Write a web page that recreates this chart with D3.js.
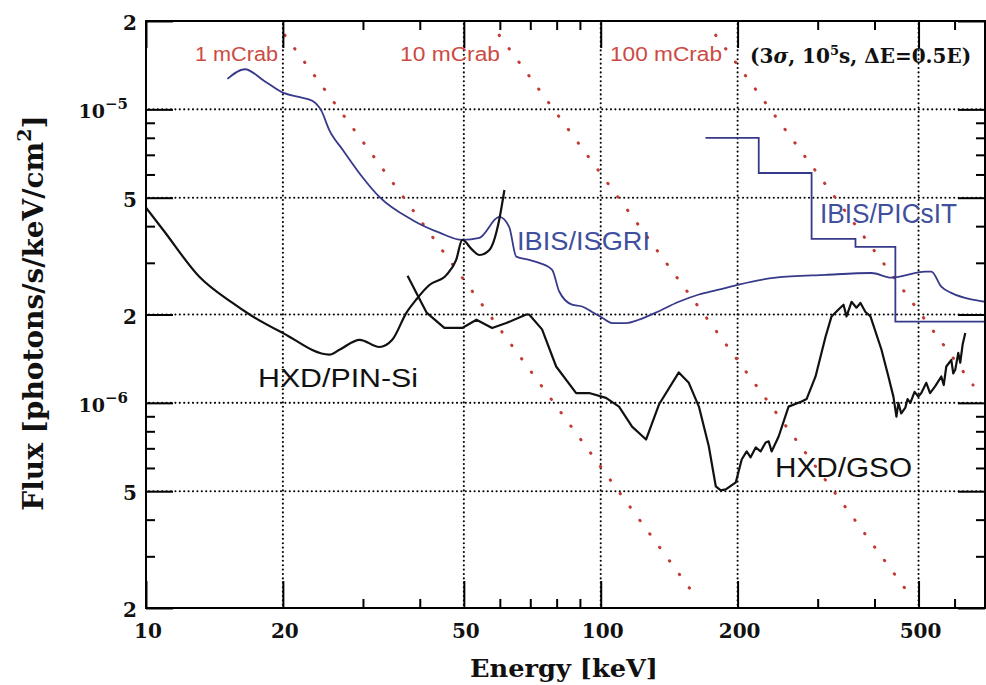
<!DOCTYPE html>
<html>
<head>
<meta charset="utf-8">
<style>
  body {
    margin: 0;
    background-color: #fff;
  }

  svg {
    display: block;
  }

  .tick-label {
    font-family: 'DejaVu Serif', serif;
    font-weight: bold;
    font-size: 20px;
    fill: #111;
  }

  .axis-title {
    font-family: 'DejaVu Serif', serif;
    font-weight: bold;
    fill: #111;
  }

  .instr {
    font-family: 'Liberation Sans', Arial, sans-serif;
  }
</style>
<script src="https://d3js.org/d3.v7.min.js"></script>
</head>
<body>
<script>
  // energies in keV, fluxes in photons/s/keV/cm2

  // HXD/PIN-Si sensitivity
  const pinEnergy = [10, 10.9, 13.1, 15.5, 16.9, 20.0, 25.3, 26.7, 29.5, 32.6, 34.8, 37.4, 39.3, 42.0, 45.8, 48.1, 49.6, 52.2, 54.1, 56.9, 59.8, 61.4];
  const pinFlux = [4.62e-6, 3.89e-6, 2.69e-6, 2.19e-6, 2.00e-6, 1.73e-6, 1.46e-6, 1.52e-6, 1.64e-6, 1.55e-6, 1.64e-6, 2.03e-6, 2.25e-6, 2.52e-6, 2.73e-6, 3.07e-6, 3.59e-6, 3.32e-6, 3.19e-6, 3.32e-6, 4.20e-6, 5.31e-6];

  // HXD/GSO sensitivity
  const gsoEnergy = [37.6, 39.3, 41.4, 45.3, 49.6, 53.3, 57.7, 62.0, 68.6, 69.6, 74.3, 79.8, 88.3, 94.3, 102.7, 109.7, 117.2, 125.8, 134.3, 148.5, 156.2, 164.4, 172.9, 179.1, 183.7, 188.4, 198.2, 204.2, 209.4, 213.6, 219.2, 224.7, 230.5, 234.1, 237.6, 246.2, 258.9, 276.5, 283.6, 296.8, 312.2, 321.8, 333.4, 342.0, 347.2, 356.1, 365.1, 372.6, 382.1, 391.9, 414.3, 429.2, 440.2, 447.0, 451.5, 458.0, 467.7, 473.0, 479.7, 490.0, 499.4, 507.0, 520.0, 530.0, 544.2, 561.0, 568.0, 575.4, 590.2, 596.0, 602.3, 611.4, 617.6, 625.0, 633.5];
  const gsoFlux = [2.71e-6, 2.37e-6, 2.03e-6, 1.80e-6, 1.80e-6, 1.92e-6, 1.80e-6, 1.87e-6, 2.00e-6, 2.00e-6, 1.78e-6, 1.33e-6, 1.08e-6, 1.08e-6, 1.04e-6, 9.71e-7, 8.30e-7, 7.50e-7, 9.87e-7, 1.27e-6, 1.17e-6, 9.71e-7, 7.10e-7, 5.19e-7, 5.03e-7, 5.07e-7, 5.36e-7, 6.41e-7, 6.83e-7, 6.52e-7, 7.05e-7, 6.83e-7, 7.33e-7, 7.39e-7, 6.83e-7, 7.68e-7, 9.71e-7, 1.01e-6, 1.03e-6, 1.23e-6, 1.68e-6, 1.97e-6, 2.08e-6, 2.16e-6, 1.97e-6, 2.21e-6, 2.11e-6, 2.19e-6, 2.04e-6, 1.97e-6, 1.52e-6, 1.23e-6, 1.05e-6, 8.98e-7, 1.00e-6, 9.2e-7, 9.64e-7, 1.03e-6, 1.00e-6, 1.09e-6, 1.05e-6, 1.08e-6, 1.17e-6, 1.08e-6, 1.14e-6, 1.23e-6, 1.15e-6, 1.33e-6, 1.40e-6, 1.26e-6, 1.30e-6, 1.48e-6, 1.37e-6, 1.58e-6, 1.73e-6];

  // IBIS/ISGRI sensitivity
  const isgriEnergy = [15.1, 16.5, 18.2, 20.0, 21.8, 23.2, 24.3, 25.3, 27.1, 29.9, 32.6, 38.5, 44.2, 49.6, 54.1, 59.8, 62.9, 65.2, 69.6, 73.2, 78.2, 81.0, 86.5, 91.0, 95.7, 100.7, 105.9, 113.6, 121.4, 132.2, 148.5, 164.4, 181.8, 201.2, 242.5, 312.2, 393.9, 435.8, 517.4, 533.3, 561.0, 590.2, 653.0, 700];
  const isgriFlux = [1.27e-5, 1.37e-5, 1.25e-5, 1.14e-5, 1.10e-5, 1.07e-5, 9.9e-6, 8.5e-6, 7.27e-6, 5.88e-6, 5.03e-6, 4.20e-6, 3.80e-6, 3.59e-6, 3.65e-6, 4.30e-6, 3.98e-6, 3.15e-6, 3.07e-6, 3.00e-6, 2.84e-6, 2.40e-6, 2.16e-6, 2.13e-6, 2.04e-6, 1.95e-6, 1.87e-6, 1.87e-6, 1.92e-6, 2.03e-6, 2.21e-6, 2.34e-6, 2.43e-6, 2.53e-6, 2.67e-6, 2.73e-6, 2.77e-6, 2.67e-6, 2.80e-6, 2.80e-6, 2.49e-6, 2.37e-6, 2.25e-6, 2.21e-6];

  // IBIS/PICsIT sensitivity (binned, step edges)
  const picsitEnergy = [170, 222.6, 290.9, 363.3, 444.6, 700];
  const picsitFlux = [8.0e-6, 6.07e-6, 3.62e-6, 3.40e-6, 1.89e-6, 1.89e-6];

  // Crab-scaled reference lines, start and end points
  const crabLabels = ['1 mCrab', '10 mCrab', '100 mCrab'];
  const crabEnergy = [[20.2, 162], [59.8, 482], [179, 659]];
  const crabFlux = [[1.79e-5, 2.18e-7], [1.79e-5, 2.18e-7], [1.79e-5, 1.15e-6]];

  // axes
  const xMajorTicks = [10, 20, 50, 100, 200, 500];
  const xMinorTicks = [30, 40, 60, 70, 80, 90, 300, 400, 600];
  const yMajorTicks = [2e-7, 5e-7, 1e-6, 2e-6, 5e-6, 1e-5, 2e-5];
  const yMinorTicks = [3e-7, 4e-7, 6e-7, 7e-7, 8e-7, 9e-7, 3e-6, 4e-6, 6e-6, 7e-6, 8e-6, 9e-6];
  const yTickMantissa = ['2', '5', '10', '2', '5', '10', '2'];
  const yTickExponent = ['', '', '\u22126', '', '', '\u22125', ''];
  const xGrid = [20, 50, 100, 200, 500];
  const yGrid = [5e-7, 1e-6, 2e-6, 5e-6, 1e-5];

  const width = 986;
  const height = 685;
  const plot = { left: 146, right: 985, top: 21, bottom: 608 };

  const colors = {
    black: '#111',
    blue: '#37398a',
    blueText: '#40509e',
    crab: '#c23a34',
    crabText: '#cc4a44',
  };

  const svg = d3.select('body')
    .append('svg')
    .attr('width', width)
    .attr('height', height);

  svg.append('rect')
    .attr('width', width)
    .attr('height', height)
    .attr('fill', '#fff');

  const x = d3.scaleLog().domain([10, 700]).range([plot.left, plot.right]);
  const y = d3.scaleLog().domain([2e-7, 2e-5]).range([plot.bottom, plot.top]);
  const plotW = plot.right - plot.left;
  const plotH = plot.bottom - plot.top;

  const defs = svg.append('defs');
  defs.append('clipPath')
    .attr('id', 'plot-clip')
    .append('rect')
    .attr('x', plot.left)
    .attr('y', plot.top)
    .attr('width', plotW)
    .attr('height', plotH);

  // dotted grid: a row of small dots along each grid line
  const dotStep = 4.4;
  const gridDots = [];
  xGrid.forEach((d) => {
    d3.range(plot.top + 3, plot.bottom - 1, dotStep).forEach((gy) => gridDots.push([x(d), gy]));
  });
  yGrid.forEach((d) => {
    d3.range(plot.left + 3, plot.right - 1, dotStep).forEach((gx) => gridDots.push([gx, y(d)]));
  });

  svg.append('g')
    .attr('class', 'grid-dots')
    .selectAll('circle')
    .data(gridDots)
    .join('circle')
    .attr('cx', (d) => d[0])
    .attr('cy', (d) => d[1])
    .attr('r', 1.05)
    .attr('fill', '#000');

  // curves
  const curves = svg.append('g').attr('clip-path', 'url(#plot-clip)');

  const crabLine = d3.line().x((d) => x(d[0])).y((d) => y(d[1]));
  crabEnergy.forEach((e, i) => {
    curves.append('path')
      .attr('d', crabLine(d3.zip(e, crabFlux[i])))
      .attr('fill', 'none')
      .attr('stroke', colors.crab)
      .attr('stroke-width', 3)
      .attr('stroke-linecap', 'round')
      .attr('stroke-dasharray', '0.5,16.2');
  });

  const smooth = d3.line()
    .x((d) => x(d[0]))
    .y((d) => y(d[1]))
    .curve(d3.curveMonotoneX);

  const jagged = d3.line()
    .x((d) => x(d[0]))
    .y((d) => y(d[1]));

  const step = d3.line()
    .x((d) => x(d[0]))
    .y((d) => y(d[1]))
    .curve(d3.curveStepAfter);

  curves.append('path')
    .attr('d', smooth(d3.zip(isgriEnergy, isgriFlux)))
    .attr('fill', 'none')
    .attr('stroke', colors.blue)
    .attr('stroke-width', 1.8);

  curves.append('path')
    .attr('d', step(d3.zip(picsitEnergy, picsitFlux)))
    .attr('fill', 'none')
    .attr('stroke', colors.blue)
    .attr('stroke-width', 1.8);

  curves.append('path')
    .attr('d', smooth(d3.zip(pinEnergy, pinFlux)))
    .attr('fill', 'none')
    .attr('stroke', colors.black)
    .attr('stroke-width', 2.2);

  curves.append('path')
    .attr('d', jagged(d3.zip(gsoEnergy, gsoFlux)))
    .attr('fill', 'none')
    .attr('stroke', colors.black)
    .attr('stroke-width', 2.2)
    .attr('stroke-linejoin', 'round');

  // ticks on all four sides
  const styleTicks = (g) => {
    g.select('.domain').remove();
    g.selectAll('.tick text').remove();
    g.selectAll('.tick line')
      .attr('stroke', '#000')
      .attr('stroke-width', 2);
  };

  const sides = [
    [d3.axisBottom, x, `translate(0,${plot.bottom})`, xMajorTicks, xMinorTicks],
    [d3.axisTop, x, `translate(0,${plot.top})`, xMajorTicks, xMinorTicks],
    [d3.axisLeft, y, `translate(${plot.left},0)`, yMajorTicks, yMinorTicks],
    [d3.axisRight, y, `translate(${plot.right},0)`, yMajorTicks, yMinorTicks],
  ];

  sides.forEach(([axisFn, scale, tr, majors, minors]) => {
    svg.append('g')
      .attr('transform', tr)
      .call(axisFn(scale).tickValues(majors).tickSize(-27))
      .call(styleTicks);
    svg.append('g')
      .attr('transform', tr)
      .call(axisFn(scale).tickValues(minors).tickSize(-9))
      .call(styleTicks);
  });

  // frame
  svg.append('rect')
    .attr('x', plot.left)
    .attr('y', plot.top)
    .attr('width', plotW)
    .attr('height', plotH)
    .attr('fill', 'none')
    .attr('stroke', '#000')
    .attr('stroke-width', 2);

  // tick labels
  svg.append('g')
    .selectAll('text')
    .data(xMajorTicks)
    .join('text')
    .attr('class', 'tick-label')
    .attr('x', (d) => x(d) + 2)
    .attr('y', 638)
    .attr('text-anchor', 'middle')
    .text((d) => d);

  const yLabels = svg.append('g')
    .selectAll('text')
    .data(yMajorTicks)
    .join('text')
    .attr('class', 'tick-label')
    .attr('text-anchor', 'end')
    .attr('x', (d, i) => (yTickExponent[i] ? 128 : 137))
    .attr('y', (d) => y(d) + 9);

  yLabels.append('tspan')
    .attr('font-size', (d, i) => (yTickExponent[i] ? 19 : 20))
    .text((d, i) => yTickMantissa[i]);

  yLabels.filter((d, i) => yTickExponent[i])
    .append('tspan')
    .attr('font-size', 15)
    .attr('dy', -9)
    .text((d) => yTickExponent[yMajorTicks.indexOf(d)]);

  // axis titles
  svg.append('text')
    .attr('class', 'axis-title')
    .attr('x', 564)
    .attr('y', 677)
    .attr('text-anchor', 'middle')
    .attr('font-size', 25)
    .attr('textLength', 188)
    .attr('lengthAdjust', 'spacingAndGlyphs')
    .text('Energy [keV]');

  const yTitle = svg.append('text')
    .attr('class', 'axis-title')
    .attr('transform', 'translate(43,313) rotate(-90)')
    .attr('text-anchor', 'middle')
    .attr('font-size', 28);
  yTitle.append('tspan').text('Flux [photons/s/keV/cm');
  yTitle.append('tspan').attr('font-size', 19).attr('dy', -12).text('2');
  yTitle.append('tspan').attr('dy', 12).text(']');

  // labels
  const crabLabelX = [195, 400, 610];
  const crabLabelW = [83, 100, 112];
  crabLabels.forEach((t, i) => {
    svg.append('text')
      .attr('class', 'instr')
      .attr('x', crabLabelX[i])
      .attr('y', 61)
      .attr('font-size', 20)
      .attr('fill', colors.crabText)
      .attr('textLength', crabLabelW[i])
      .attr('lengthAdjust', 'spacingAndGlyphs')
      .text(t);
  });

  const instrLabels = [
    { text: 'HXD/PIN-Si', x: 258, y: 387, w: 160, size: 26, color: colors.black },
    { text: 'HXD/GSO', x: 775, y: 477, w: 137, size: 27, color: colors.black },
    { text: 'IBIS/ISGRI', x: 517, y: 250, w: 133, size: 26, color: colors.blueText },
    { text: 'IBIS/PICsIT', x: 820, y: 223, w: 137, size: 27, color: colors.blueText },
  ];

  instrLabels.forEach((l) => {
    svg.append('text')
      .attr('class', 'instr')
      .attr('x', l.x)
      .attr('y', l.y)
      .attr('font-size', l.size)
      .attr('fill', l.color)
      .attr('textLength', l.w)
      .attr('lengthAdjust', 'spacingAndGlyphs')
      .text(l.text);
  });

  // observation conditions
  const cond = svg.append('text')
    .attr('class', 'axis-title')
    .attr('x', 750)
    .attr('y', 63)
    .attr('font-size', 20);
  cond.append('tspan').text('(3');
  cond.append('tspan').attr('font-style', 'italic').text('\u03c3');
  cond.append('tspan').text(', 10');
  cond.append('tspan').attr('font-size', 13).attr('dy', -8).text('5');
  cond.append('tspan').attr('dy', 8).text('s, \u0394E=0.5E)');
</script>
</body>
</html>
